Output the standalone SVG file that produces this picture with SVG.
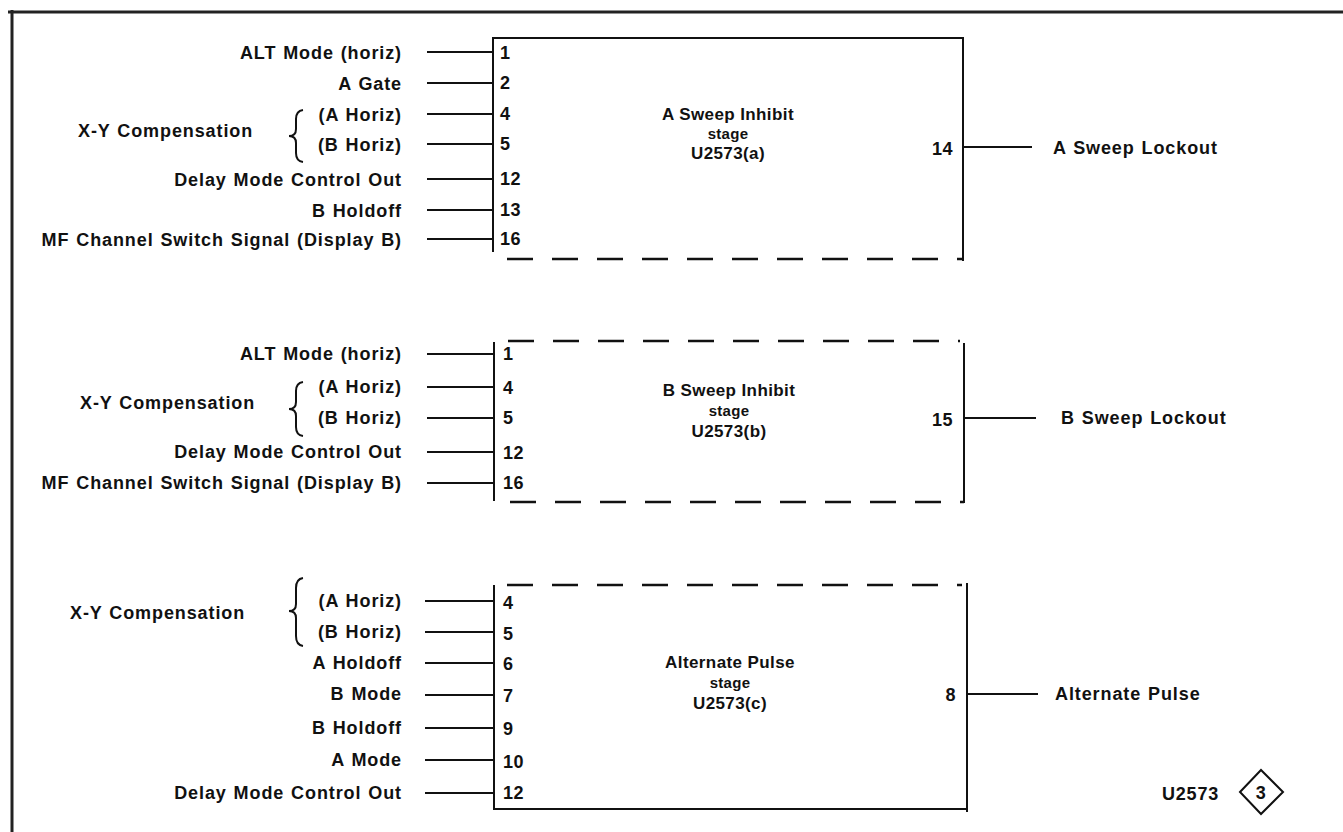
<svg xmlns="http://www.w3.org/2000/svg" width="1343" height="832" viewBox="0 0 1343 832">
<style>
text{font-family:"Liberation Sans",Arial,sans-serif;font-weight:bold;fill:#111}
.lbl{font-size:18px;letter-spacing:0.9px;word-spacing:1px;text-anchor:end}
.lbs{font-size:18px;letter-spacing:0.9px;word-spacing:1px}
.pin{font-size:18px;letter-spacing:0.5px}
.pinr{font-size:18px;letter-spacing:0.5px;text-anchor:end}
.t1{font-size:17px;letter-spacing:0.4px;text-anchor:middle}
.t2{font-size:15px;letter-spacing:0.3px;text-anchor:middle}
.ln{stroke:#111;stroke-width:2;fill:none}
.dash{stroke:#111;stroke-width:2.5;fill:none;stroke-dasharray:26 19}
.brace{stroke:#111;stroke-width:2;fill:none}
.frame{stroke:#222;stroke-width:3;fill:none}
</style>
<rect x="0" y="0" width="1343" height="832" fill="#fff"/>
<g id="frame">
<line class="frame" x1="8" y1="12" x2="1343" y2="12"/>
<line class="frame" x1="12" y1="10" x2="12" y2="832"/>
</g>

<g id="connectors">
<line class="ln" x1="427" y1="52" x2="493" y2="52"/>
<line class="ln" x1="427" y1="83" x2="493" y2="83"/>
<line class="ln" x1="427" y1="114" x2="493" y2="114"/>
<line class="ln" x1="427" y1="144" x2="493" y2="144"/>
<line class="ln" x1="427" y1="179" x2="493" y2="179"/>
<line class="ln" x1="427" y1="210" x2="493" y2="210"/>
<line class="ln" x1="427" y1="239" x2="493" y2="239"/>
<line class="ln" x1="963" y1="147" x2="1032" y2="147"/>
<line class="ln" x1="427" y1="354" x2="493" y2="354"/>
<line class="ln" x1="427" y1="387" x2="493" y2="387"/>
<line class="ln" x1="427" y1="418" x2="493" y2="418"/>
<line class="ln" x1="427" y1="452" x2="493" y2="452"/>
<line class="ln" x1="427" y1="483" x2="493" y2="483"/>
<line class="ln" x1="964" y1="418" x2="1036" y2="418"/>
<line class="ln" x1="425" y1="601" x2="494" y2="601"/>
<line class="ln" x1="425" y1="632" x2="494" y2="632"/>
<line class="ln" x1="425" y1="663" x2="494" y2="663"/>
<line class="ln" x1="425" y1="695" x2="494" y2="695"/>
<line class="ln" x1="425" y1="728" x2="494" y2="728"/>
<line class="ln" x1="425" y1="760" x2="494" y2="760"/>
<line class="ln" x1="425" y1="793" x2="494" y2="793"/>
<line class="ln" x1="967" y1="694" x2="1038" y2="694"/>
</g>

<g id="labels-a">
<text class="lbl" x="402" y="59">ALT Mode (horiz)</text>
<text class="lbl" x="402" y="90">A Gate</text>
<text class="lbl" x="402" y="121">(A Horiz)</text>
<text class="lbl" x="402" y="151">(B Horiz)</text>
<text class="lbl" x="402" y="186">Delay Mode Control Out</text>
<text class="lbl" x="402" y="217">B Holdoff</text>
<text class="lbl" x="402" y="246">MF Channel Switch Signal (Display B)</text>
<text class="lbs" x="78" y="137">X-Y Compensation</text>
<path class="brace" d="M303,110 Q296,111 296,119 L296,129 Q296,136 289,136 Q296,136 296,143 L296,153 Q296,161 303,162"/>
</g>

<g id="stage-a">
<line class="ln" x1="493" y1="38" x2="963" y2="38"/>
<line class="ln" x1="493" y1="37" x2="493" y2="252"/>
<line class="ln" x1="963" y1="37" x2="963" y2="261"/>
<line class="dash" x1="507" y1="259" x2="963" y2="259"/>
<text class="pin" x="500" y="59">1</text>
<text class="pin" x="500" y="89">2</text>
<text class="pin" x="500" y="120">4</text>
<text class="pin" x="500" y="150">5</text>
<text class="pin" x="500" y="185">12</text>
<text class="pin" x="500" y="216">13</text>
<text class="pin" x="500" y="245">16</text>
<text class="t1" x="728" y="120">A Sweep Inhibit</text>
<text class="t2" x="728" y="139">stage</text>
<text class="t1" x="728" y="159">U2573(a)</text>
<text class="pinr" x="953" y="155">14</text>
<text class="lbs" x="1053" y="154">A Sweep Lockout</text>
</g>

<g id="labels-b">
<text class="lbl" x="402" y="360">ALT Mode (horiz)</text>
<text class="lbl" x="402" y="393">(A Horiz)</text>
<text class="lbl" x="402" y="424">(B Horiz)</text>
<text class="lbl" x="402" y="458">Delay Mode Control Out</text>
<text class="lbl" x="402" y="489">MF Channel Switch Signal (Display B)</text>
<text class="lbs" x="80" y="409">X-Y Compensation</text>
<path class="brace" d="M303,382 Q296,383 296,391 L296,402 Q296,409 289,409 Q296,409 296,416 L296,427 Q296,435 303,436"/>
</g>

<g id="stage-b">
<line class="dash" x1="508" y1="341" x2="960" y2="341"/>
<line class="ln" x1="494" y1="342" x2="494" y2="501"/>
<line class="ln" x1="964" y1="343" x2="964" y2="503"/>
<line class="dash" x1="510" y1="502" x2="964" y2="502"/>
<text class="pin" x="503" y="360">1</text>
<text class="pin" x="503" y="394">4</text>
<text class="pin" x="503" y="424">5</text>
<text class="pin" x="503" y="459">12</text>
<text class="pin" x="503" y="489">16</text>
<text class="t1" x="729" y="396">B Sweep Inhibit</text>
<text class="t2" x="729" y="416">stage</text>
<text class="t1" x="729" y="437">U2573(b)</text>
<text class="pinr" x="953" y="426">15</text>
<text class="lbs" x="1061" y="424">B Sweep Lockout</text>
</g>

<g id="labels-c">
<text class="lbl" x="402" y="607">(A Horiz)</text>
<text class="lbl" x="402" y="638">(B Horiz)</text>
<text class="lbl" x="402" y="669">A Holdoff</text>
<text class="lbl" x="402" y="700">B Mode</text>
<text class="lbl" x="402" y="734">B Holdoff</text>
<text class="lbl" x="402" y="766">A Mode</text>
<text class="lbl" x="402" y="799">Delay Mode Control Out</text>
<text class="lbs" x="70" y="619">X-Y Compensation</text>
<path class="brace" d="M303,578 Q296,579 296,588 L296,604 Q296,611 289,611 Q296,611 296,618 L296,636 Q296,645 303,646"/>
</g>

<g id="stage-c">
<line class="dash" x1="507" y1="585" x2="962" y2="585"/>
<line class="ln" x1="494" y1="585" x2="494" y2="809"/>
<line class="ln" x1="493" y1="809" x2="968" y2="809"/>
<line class="ln" x1="967" y1="583" x2="967" y2="812"/>
<text class="pin" x="503" y="609">4</text>
<text class="pin" x="503" y="640">5</text>
<text class="pin" x="503" y="670">6</text>
<text class="pin" x="503" y="702">7</text>
<text class="pin" x="503" y="735">9</text>
<text class="pin" x="503" y="768">10</text>
<text class="pin" x="503" y="799">12</text>
<text class="t1" x="730" y="668">Alternate Pulse</text>
<text class="t2" x="730" y="688">stage</text>
<text class="t1" x="730" y="709">U2573(c)</text>
<text class="pinr" x="956" y="701">8</text>
<text class="lbs" x="1055" y="700">Alternate Pulse</text>
</g>

<g id="ref-tag">
<text class="lbs" x="1162" y="800" style="letter-spacing:0.8px">U2573</text>
<polygon class="ln" points="1240,792 1261,770 1283,792 1261,814"/>
<text class="pin" x="1261" y="799" style="text-anchor:middle">3</text>
</g>
</svg>
